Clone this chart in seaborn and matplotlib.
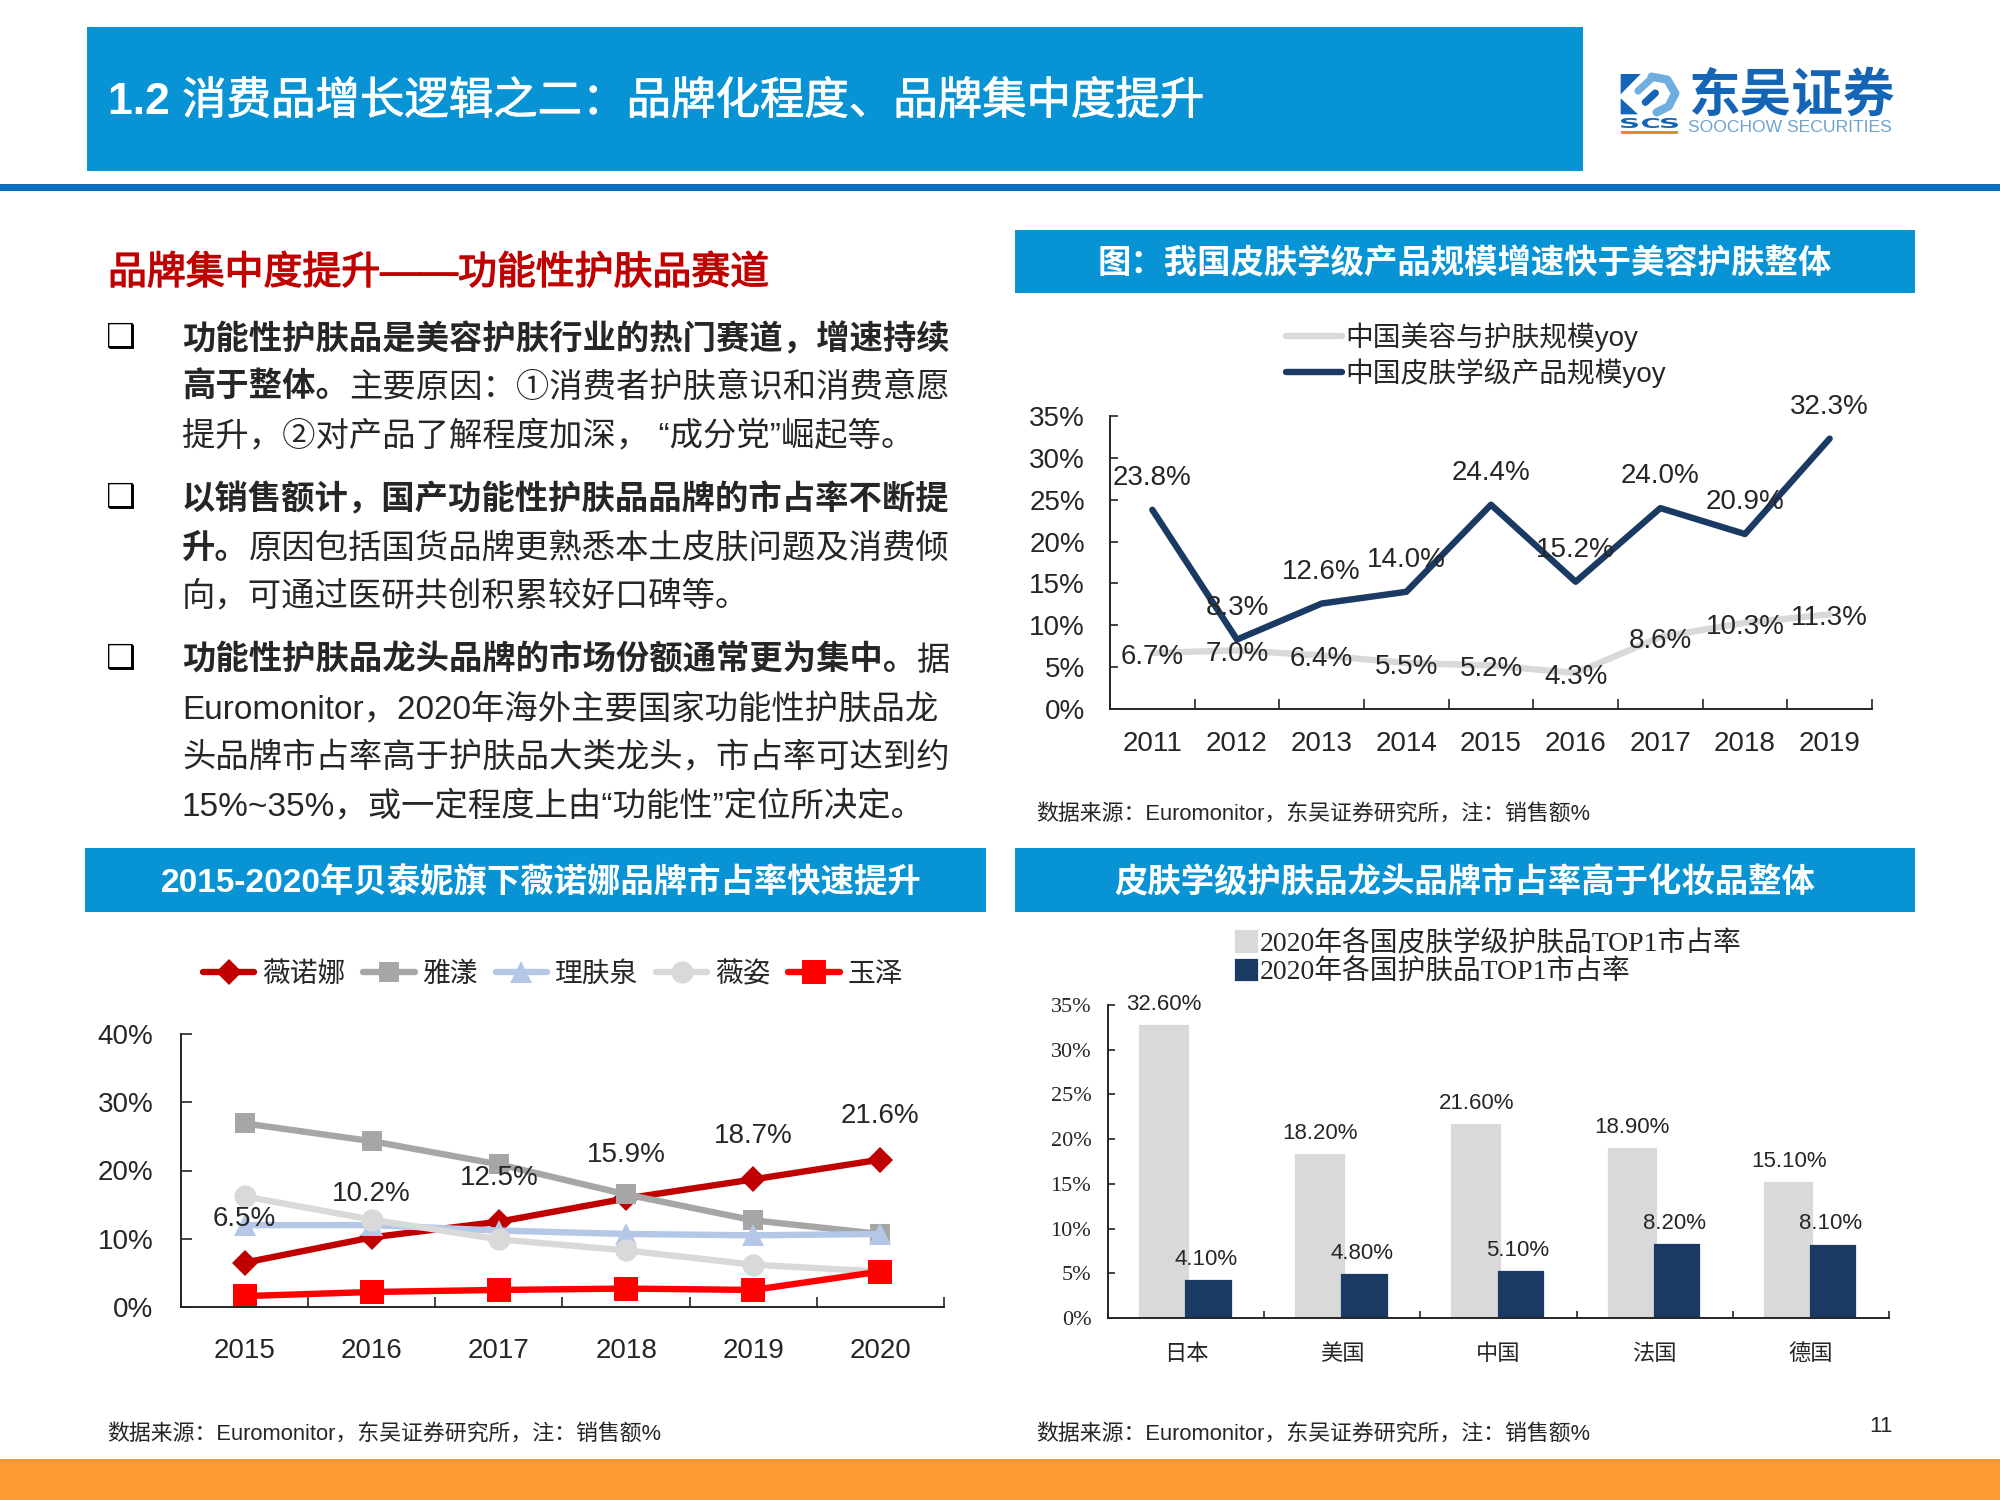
# plot.py - 1.2 消费品增长逻辑 slide
import numpy as np
import pandas as pd
import matplotlib
matplotlib.use("Agg")
import matplotlib.pyplot as plt
import matplotlib.patheffects as pe
from matplotlib.font_manager import FontProperties
from matplotlib.patches import Rectangle, Polygon, PathPatch
from matplotlib.textpath import TextPath
from matplotlib.transforms import Affine2D
import seaborn as sns

SANS = ["Liberation Sans", "Noto Sans CJK SC", "DejaVu Sans"]
SERIF = ["Liberation Serif", "Noto Sans CJK SC", "DejaVu Sans"]

sns.set_theme(style="white")
plt.rcParams["font.family"] = SANS
plt.rcParams["axes.unicode_minus"] = False

# ------------------------------
# data
# ------------------------------
yoy_years = [2011, 2012, 2013, 2014, 2015, 2016, 2017, 2018, 2019]
yoy_beauty = [6.7, 7.0, 6.4, 5.5, 5.2, 4.3, 8.6, 10.3, 11.3]
yoy_derma = [23.8, 8.3, 12.6, 14.0, 24.4, 15.2, 24.0, 20.9, 32.3]
yoy_names = ["中国美容与护肤规模yoy", "中国皮肤学级产品规模yoy"]

share_years = [2015, 2016, 2017, 2018, 2019, 2020]
share_winona = [6.5, 10.2, 12.5, 15.9, 18.7, 21.6]
share_avene = [26.9, 24.3, 20.9, 16.5, 12.7, 10.7]
share_lrp = [12.0, 12.0, 11.2, 10.7, 10.5, 10.7]
share_vichy = [16.2, 12.8, 9.9, 8.3, 6.2, 5.2]
share_yuze = [1.6, 2.2, 2.5, 2.7, 2.5, 5.2]
share_names = ["薇诺娜", "雅漾", "理肤泉", "薇姿", "玉泽"]

countries = ["日本", "美国", "中国", "法国", "德国"]
top1_derma = [32.6, 18.2, 21.6, 18.9, 15.1]
top1_skin = [4.1, 4.8, 5.1, 8.2, 8.1]
top1_names = ["2020年各国皮肤学级护肤品TOP1市占率", "2020年各国护肤品TOP1市占率"]

body_lines = [
    [("功能性护肤品是美容护肤行业的热门赛道，增速持续", "bold")],
    [("高于整体。", "bold"), ("主要原因：①消费者护肤意识和消费意愿", "normal")],
    [("提升，②对产品了解程度加深， “成分党”崛起等。", "normal")],
    [("以销售额计，国产功能性护肤品品牌的市占率不断提", "bold")],
    [("升。", "bold"), ("原因包括国货品牌更熟悉本土皮肤问题及消费倾", "normal")],
    [("向，可通过医研共创积累较好口碑等。", "normal")],
    [("功能性护肤品龙头品牌的市场份额通常更为集中。", "bold"), ("据", "normal")],
    [("Euromonitor，2020年海外主要国家功能性护肤品龙", "normal")],
    [("头品牌市占率高于护肤品大类龙头，市占率可达到约", "normal")],
    [("15%~35%，或一定程度上由“功能性”定位所决定。", "normal")],
]
body_y = [349, 397, 446, 509, 558, 606, 670, 719, 767, 816]
bullet_y = [338, 498, 659]

source_text = "数据来源：Euromonitor，东吴证券研究所，注：销售额%"

BLUE = "#0893D5"
GREY = "#D9D9D9"
NAVY = "#1B3A63"
INK = "#262626"

# ------------------------------
# page background (pixel coordinates)
# ------------------------------
fig = plt.figure(figsize=(10, 7.5), dpi=200, facecolor="white")
bg = fig.add_axes([0, 0, 1, 1], zorder=0)
bg.set_xlim(0, 2000)
bg.set_ylim(1500, 0)
bg.axis("off")


def box(x0, y0, x1, y1, color):
    bg.add_patch(Rectangle((x0, y0), x1 - x0, y1 - y0, color=color, lw=0))


def axes_px(x0, y0, x1, y1):
    # y0 is the top edge, y1 the bottom edge
    ax = fig.add_axes([x0 / 2000, 1 - y1 / 1500, (x1 - x0) / 2000, (y1 - y0) / 1500], zorder=2)
    ax.patch.set_alpha(0)
    return ax


renderer = fig.canvas.get_renderer()


def runs(x, y, parts, size, color=INK, thicken=0):
    for s, weight in parts:
        t = bg.text(x, y, s, fontsize=size, color=color, va="baseline", ha="left", fontweight=weight)
        if thicken and weight != "bold":
            # no medium weight installed, so fatten the regular one a little
            t.set_path_effects([pe.withStroke(linewidth=thicken, foreground=color)])
        x += t.get_window_extent(renderer).width


box(87, 27, 1583, 171, BLUE)
box(0, 184, 2000, 191, "#0B6FBF")
box(0, 1459, 2000, 1500, "#FF9933")
box(1015, 230, 1915, 293, BLUE)
box(85, 848, 986, 912, BLUE)
box(1015, 848, 1915, 912, BLUE)

runs(108, 114, [("1.2 ", "bold"), ("消费品增长逻辑之二：品牌化程度、品牌集中度提升", "normal")], 16, "white", thicken=0.3)
runs(108, 284, [("品牌集中度提升——功能性护肤品赛道", "normal")], 14, "#C00000", thicken=0.45)
for y, parts in zip(body_y, body_lines):
    runs(182, y, parts, 12)
for y in bullet_y:
    bg.text(121, y, "❑", fontsize=12, color="black", ha="center", va="center",
            family=["DejaVu Sans"], fontweight="bold")

bar_title = dict(color="white", fontsize=12, fontweight="bold", ha="center", va="center")
bg.text(1465, 264, "图：我国皮肤学级产品规模增速快于美容护肤整体", **bar_title)
bg.text(541, 883, "2015-2020年贝泰妮旗下薇诺娜品牌市占率快速提升", **bar_title)
bg.text(1465, 883, "皮肤学级护肤品龙头品牌市占率高于化妆品整体", **bar_title)

bg.text(1036, 814, source_text, fontsize=7.9, color=INK, va="center")
bg.text(107, 1434, source_text, fontsize=7.9, color=INK, va="center")
bg.text(1036, 1434, source_text, fontsize=7.9, color=INK, va="center")
bg.text(1881, 1427, "11", fontsize=8, color=INK, va="center", ha="center")


# logo, sketched on the pixel grid of a 3x crop starting at (1610, 65)
def lp(px, py):
    return (1610 + px / 3, 65 + py / 3)


LOGO = "#1565B7"
LOGO_LIGHT = "#6FAEE0"
bg.add_patch(Polygon([lp(32, 27), lp(92, 27), lp(32, 88)], color=LOGO, lw=0))
bg.add_patch(Polygon([lp(32, 100), lp(84, 148), lp(32, 148)], color=LOGO, lw=0))
bg.plot(*zip(lp(84, 78), lp(125, 40)), color=LOGO_LIGHT, lw=2.6, solid_capstyle="round")
bg.plot(*zip(lp(125, 35), lp(172, 44), lp(196, 85), lp(176, 124), lp(140, 142)),
        color=LOGO_LIGHT, lw=3.0, solid_capstyle="round", solid_joinstyle="round")
bg.plot(*zip(lp(106, 112), lp(136, 84)), color=LOGO, lw=2.6, solid_capstyle="round")
scs_font = FontProperties(family="DejaVu Sans", weight="bold")
for letter, x0 in zip("SCS", [1621, 1642, 1661]):
    path = TextPath((0, 0), letter, size=10, prop=scs_font)
    ext = path.get_extents()
    tf = Affine2D().translate(-ext.x0, -ext.y0).scale(17 / ext.width, -10 / ext.height).translate(x0, 128)
    bg.add_patch(PathPatch(path, transform=tf + bg.transData, color=LOGO, lw=0))
box(1621, 131, 1678, 134, "#F08A1D")
bg.text(1791, 97, "东吴证券", fontsize=18.6, fontweight="bold", color=LOGO, ha="center", va="center")
bg.text(1790, 128, "SOOCHOW SECURITIES", fontsize=6.3, color="#6FA3CF", ha="center", va="center")


def style_axes(ax, cats, ylim, yticks, y_pad, x_len, y_len, size=10, family=None):
    ax.set_xlim(cats[0] - 0.5, cats[-1] + 0.5)
    ax.set_ylim(*ylim)
    ax.set_xticks([c - 0.5 for c in cats] + [cats[-1] + 0.5], [""] * (len(cats) + 1))
    ax.set_yticks(yticks, [f"{v}%" for v in yticks])
    ax.tick_params(axis="x", which="major", direction="in", length=x_len, width=0.6, color=INK, bottom=True)
    ax.tick_params(axis="y", direction="in", length=y_len, width=0.6, color=INK, left=True,
                   labelsize=size, pad=y_pad, labelcolor=INK)
    if family:
        for lab in ax.get_yticklabels():
            lab.set_family(family)
    for side in ["top", "right"]:
        ax.spines[side].set_visible(False)
    for side in ["left", "bottom"]:
        ax.spines[side].set_color(INK)
        ax.spines[side].set_linewidth(0.7)
    ax.set_xlabel("")
    ax.set_ylabel("")


# ------------------------------
# top right: yoy growth lines
# ------------------------------
ax1 = axes_px(1110, 416, 1872, 709)
yoy_df = pd.DataFrame({
    "year": yoy_years * 2,
    "value": yoy_beauty + yoy_derma,
    "series": [yoy_names[0]] * len(yoy_years) + [yoy_names[1]] * len(yoy_years),
})
sns.lineplot(data=yoy_df, x="year", y="value", hue="series", hue_order=yoy_names,
             palette={yoy_names[0]: GREY, yoy_names[1]: NAVY}, linewidth=2.3, errorbar=None, ax=ax1)
style_axes(ax1, yoy_years, (0, 35), [0, 5, 10, 15, 20, 25, 30, 35], 9, 3.6, 3)
ax1.set_xticks(yoy_years, [str(y) for y in yoy_years], minor=True)
ax1.tick_params(axis="x", which="minor", length=0, labelsize=10, pad=8, labelcolor=INK)
for x, v in zip(yoy_years, yoy_derma):
    ax1.annotate(f"{v:.1f}%", (x, v), xytext=(0, 11.4), textcoords="offset points",
                 ha="center", va="center", fontsize=10, color=INK, zorder=5)
for x, v in zip(yoy_years, yoy_beauty):
    ax1.annotate(f"{v:.1f}%", (x, v), xytext=(0, -1.4), textcoords="offset points",
                 ha="center", va="center", fontsize=10, color=INK, zorder=5)
h, l = ax1.get_legend_handles_labels()
ax1.legend(h, l, loc="center left", bbox_to_anchor=(1286 / 2000, 1 - 355 / 1500),
           bbox_transform=fig.transFigure, frameon=False, fontsize=10, labelcolor=INK, borderpad=0,
           borderaxespad=0, handlelength=2.0, handletextpad=0.13, labelspacing=0.24)

# ------------------------------
# bottom left: brand share lines
# ------------------------------
ax2 = axes_px(181, 1034, 944, 1307)
share_values = [share_winona, share_avene, share_lrp, share_vichy, share_yuze]
share_df = pd.DataFrame({
    "year": share_years * len(share_names),
    "value": sum(share_values, []),
    "brand": [n for n in share_names for _ in share_years],
})
share_palette = dict(zip(share_names, ["#C00000", "#A6A6A6", "#B4C7E7", GREY, "#FF0000"]))
share_markers = dict(zip(share_names, ["D", "s", "^", "o", "s"]))
share_sizes = dict(zip(share_names, [6.6, 7.2, 8, 8, 8.5]))
sns.lineplot(data=share_df, x="year", y="value", hue="brand", style="brand", hue_order=share_names,
             style_order=share_names, palette=share_palette, markers=share_markers, dashes=False,
             linewidth=2.3, markersize=7, markeredgewidth=0, errorbar=None, ax=ax2)
for line, name in zip(ax2.get_lines(), share_names):
    line.set_markersize(share_sizes[name])
    line.set_clip_on(False)
style_axes(ax2, share_years, (0, 40), [0, 10, 20, 30, 40], 10, 3.6, 4)
ax2.set_xticks(share_years, [str(y) for y in share_years], minor=True)
ax2.tick_params(axis="x", which="minor", length=0, labelsize=10, pad=11, labelcolor=INK)
for x, v in zip(share_years, share_winona):
    ax2.annotate(f"{v:.1f}%", (x, v), xytext=(0, 15.6), textcoords="offset points",
                 ha="center", va="center", fontsize=10, color=INK, zorder=6)
h, l = ax2.get_legend_handles_labels()
for handle, label in zip(h, l):
    handle.set_markersize(share_sizes[label])
ax2.legend(h, l, loc="center left", bbox_to_anchor=(203 / 2000, 1 - 975 / 1500),
           bbox_transform=fig.transFigure, frameon=False, fontsize=10, labelcolor=INK, ncol=5,
           borderpad=0, borderaxespad=0, handlelength=1.85, handletextpad=0.27, columnspacing=0.65)

# ------------------------------
# bottom right: overlapping bars
# ------------------------------
ax3 = axes_px(1108, 1005, 1889, 1318)
positions = np.arange(len(countries))
sns.barplot(x=positions - 0.143, y=top1_derma, native_scale=True, width=0.305, color=GREY,
            edgecolor=GREY, linewidth=0.8, saturation=1, label=top1_names[0], ax=ax3)
sns.barplot(x=positions + 0.143, y=top1_skin, native_scale=True, width=0.285, color=NAVY,
            edgecolor=NAVY, linewidth=0.8, saturation=1, label=top1_names[1], ax=ax3)
style_axes(ax3, list(positions), (0, 35), [0, 5, 10, 15, 20, 25, 30, 35], 6, 2.5, 2.6, size=8, family=SERIF)
ax3.set_xticks(positions, countries, minor=True)
ax3.tick_params(axis="x", which="minor", length=0, labelsize=8, pad=9.5, labelcolor=INK)
for x, v in zip(positions - 0.143, top1_derma):
    ax3.annotate(f"{v:.2f}%", (x, v), xytext=(0, 7.8), textcoords="offset points",
                 ha="center", va="center", fontsize=8, color=INK)
for x, v in zip(positions + 0.143, top1_skin):
    ax3.annotate(f"{v:.2f}%", (x, v), xytext=(-1, 7.8), textcoords="offset points",
                 ha="center", va="center", fontsize=8, color=INK)
h, l = ax3.get_legend_handles_labels()
ax3.legend(h, l, loc="center left", bbox_to_anchor=(1236 / 2000, 1 - 958 / 1500),
           bbox_transform=fig.transFigure, frameon=False, prop=FontProperties(family=SERIF, size=10),
           labelcolor=INK, borderpad=0, borderaxespad=0, handlelength=0.75, handleheight=0.75,
           handletextpad=0.1, labelspacing=0.08)

fig.savefig("out.png", dpi=200)
